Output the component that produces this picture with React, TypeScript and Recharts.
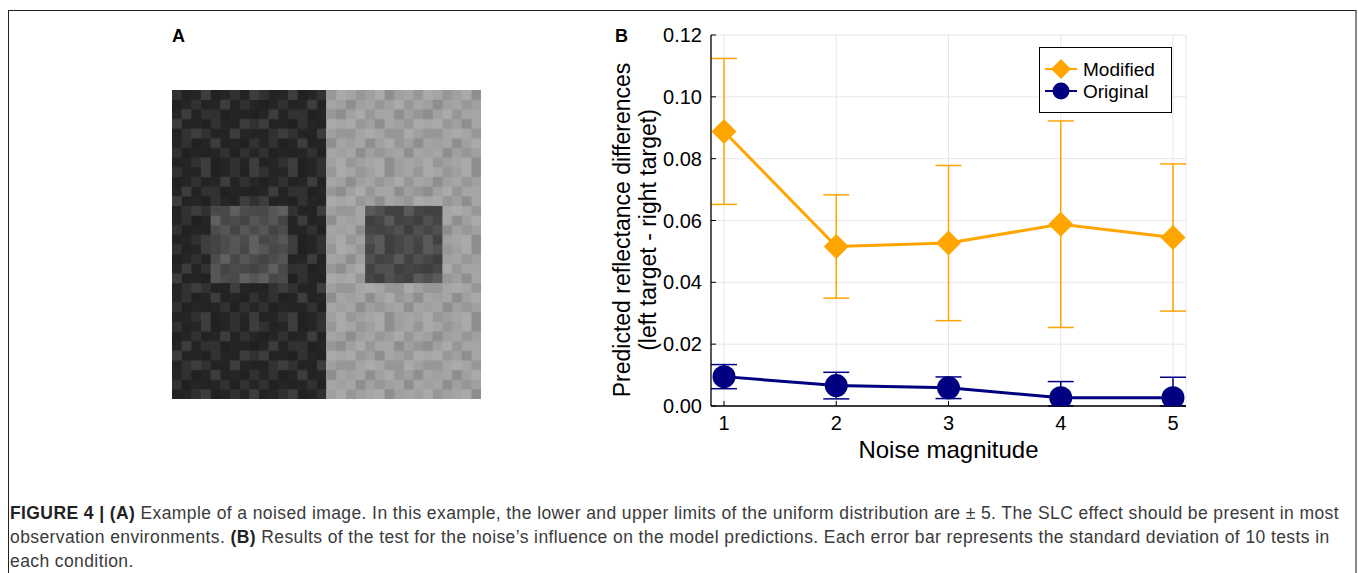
import React from 'react';
import { LineChart, Line, XAxis, YAxis, CartesianGrid, ErrorBar, Legend } from 'recharts';

// Panel B values
const noiseLevels = [1, 2, 3, 4, 5];
const modifiedMean = [0.0888, 0.0516, 0.0527, 0.0588, 0.0545];
const modifiedStd = [0.0236, 0.0167, 0.0251, 0.0334, 0.0238];
const originalMean = [0.0095, 0.0066, 0.0059, 0.0027, 0.0027];
// lower / upper extent of the original error bars (lower ones stop at the axis)
const originalErrLow = [0.0039, 0.0043, 0.0035, 0.0027, 0.0027];
const originalErrHigh = [0.0039, 0.0043, 0.0035, 0.0052, 0.0066];
const yTicks = [0, 0.02, 0.04, 0.06, 0.08, 0.1, 0.12];

const seriesNames = ['Modified', 'Original'];
const ORANGE = '#FFA500';
const NAVY = '#000080';
const FONT = '"Liberation Sans", Arial, Helvetica, sans-serif';

// hand-picked shade offsets for the noise texture of panel A
const tileShade = [
  [1, -1, 0, 2, -2, 0, 1, -1, 2],
  [-2, 0, 1, -1, 0, 2, -1, 1, 0],
  [0, 2, -1, 1, 1, -2, 0, -1, -2],
  [2, -1, 0, -2, 1, 0, -1, 2, 1],
  [-1, 1, 2, 1, -1, -1, 2, 0, -1],
  [0, 1, -2, 0, 2, -1, 0, -2, 1],
  [1, -2, 0, -1, 0, 1, -2, 1, 0],
  [-1, 0, 1, 2, -2, 0, 1, 0, 2],
];

const data = noiseLevels.map((x, i) => ({
  x,
  modified: modifiedMean[i],
  modifiedErr: modifiedStd[i],
  original: originalMean[i],
  originalErr: [originalErrLow[i], originalErrHigh[i]],
}));

const Diamond = (props: any) => {
  const { cx, cy } = props;
  if (cx == null || cy == null) return <g />;
  const h = 12.5;
  return <path d={`M${cx},${cy - h}L${cx + h},${cy}L${cx},${cy + h}L${cx - h},${cy}Z`} fill={ORANGE} />;
};

const Disc = (props: any) => {
  const { cx, cy, index } = props;
  if (cx == null || cy == null) return <g />;
  const id = `disc-clip-${index}`;
  return (
    <g>
      <clipPath id={id}>
        <rect x={0} y={0} width={1358} height={406} />
      </clipPath>
      <circle cx={cx} cy={cy} r={11.5} fill={NAVY} clipPath={`url(#${id})`} />
    </g>
  );
};

const LegendBox = () => (
  <svg width={133} height={66} style={{ display: 'block' }}>
    <rect x={0.5} y={0.5} width={132} height={65} fill="#fff" stroke="#000" strokeWidth={1} />
    <line x1={6} x2={38} y1={22} y2={22} stroke={ORANGE} strokeWidth={2} />
    <path d="M22,12L32,22L22,32L12,22Z" fill={ORANGE} />
    <text x={44} y={29} fontSize={19} fontFamily={FONT} fill="#000">{seriesNames[0]}</text>
    <line x1={6} x2={38} y1={44} y2={44} stroke={NAVY} strokeWidth={2} />
    <circle cx={22} cy={44} r={8.5} fill={NAVY} />
    <text x={44} y={51} fontSize={19} fontFamily={FONT} fill="#000">{seriesNames[1]}</text>
  </svg>
);

const YLabel = () => (
  <g transform="translate(622,230) rotate(-90)">
    <text x={0} y={0} textAnchor="middle" dominantBaseline="central" fontSize={23} fontFamily={FONT} fill="#000">
      Predicted reflectance differences
    </text>
    <text x={0} y={26} textAnchor="middle" dominantBaseline="central" fontSize={23} fontFamily={FONT} fill="#000">
      (left target - right target)
    </text>
  </g>
);

const NoiseImage = () => {
  const size = 309;
  const cell = size / 32;
  const tw = tileShade[0].length;
  const th = tileShade.length;
  return (
    <svg width={size} height={size} style={{ position: 'absolute', left: 172, top: 90 }}>
      <defs>
        <pattern id="noise" patternUnits="userSpaceOnUse" width={tw * cell} height={th * cell}>
          {tileShade.map((row, r) =>
            row.map((v, c) =>
              v === 0 ? null : (
                <rect
                  key={`${r}-${c}`}
                  x={c * cell}
                  y={r * cell}
                  width={cell + 0.2}
                  height={cell + 0.2}
                  fill={v > 0 ? '#fff' : '#000'}
                  fillOpacity={0.055 * Math.abs(v)}
                />
              )
            )
          )}
        </pattern>
      </defs>
      <rect x={0} y={0} width={size / 2} height={size} fill="#252525" />
      <rect x={size / 2} y={0} width={size / 2} height={size} fill="#a0a0a0" />
      <rect x={4 * cell} y={12 * cell} width={8 * cell} height={8 * cell} fill="#4c4c4c" />
      <rect x={20 * cell} y={12 * cell} width={8 * cell} height={8 * cell} fill="#464646" />
      <rect x={0} y={0} width={size} height={size} fill="url(#noise)" />
    </svg>
  );
};

const captionLines = [
  [
    'FIGURE 4 | (A)',
    ' Example of a noised image. In this example, the lower and upper limits of the uniform distribution are \u00b1 5. The SLC effect should be present in most',
  ],
  [
    'observation environments. ',
    '(B)',
    ' Results of the test for the noise\u2019s influence on the model predictions. Each error bar represents the standard deviation of 10 tests in',
  ],
  ['each condition.'],
];

export default function App() {
  return (
    <div style={{ position: 'absolute', left: 0, top: 0, width: 1358, height: 573, background: '#fff', overflow: 'hidden' }}>
      <LineChart
        width={1358}
        height={573}
        data={data}
        margin={{ top: 35, right: 172, bottom: 137, left: 651 }}
        style={{ position: 'absolute', left: 0, top: 0 }}
      >
        <CartesianGrid stroke="#e6e6e6" strokeWidth={1} />
        <XAxis
          dataKey="x"
          type="number"
          domain={[0.884, 5.116]}
          ticks={noiseLevels}
          allowDataOverflow
          height={30}
          tickSize={-5}
          tickMargin={15}
          axisLine={{ stroke: '#000', strokeWidth: 1.3 }}
          tickLine={{ stroke: '#000' }}
          tick={{ fill: '#000', fontSize: 20, fontFamily: FONT }}
        />
        <YAxis
          type="number"
          domain={[0, 0.12]}
          ticks={yTicks}
          allowDataOverflow
          width={60}
          tickSize={-5}
          tickMargin={14}
          tickFormatter={(v: number) => v.toFixed(2)}
          axisLine={{ stroke: '#000', strokeWidth: 1.3 }}
          tickLine={{ stroke: '#000' }}
          tick={{ fill: '#000', fontSize: 20, fontFamily: FONT }}
          label={{ content: () => <YLabel /> }}
        />
        <Legend
          layout="vertical"
          align="center"
          verticalAlign="middle"
          content={() => <LegendBox />}
          wrapperStyle={{ left: 1039, top: 47, width: 133, height: 66 }}
        />
        <Line
          dataKey="modified"
          name={seriesNames[0]}
          stroke={ORANGE}
          strokeWidth={3}
          dot={(p: any) => <Diamond key={`m${p.index}`} {...p} />}
          activeDot={false}
          isAnimationActive={false}
        >
          <ErrorBar dataKey="modifiedErr" direction="y" width={13} stroke={ORANGE} strokeWidth={1.5} />
        </Line>
        <Line
          dataKey="original"
          name={seriesNames[1]}
          stroke={NAVY}
          strokeWidth={3}
          dot={(p: any) => <Disc key={`o${p.index}`} {...p} />}
          activeDot={false}
          isAnimationActive={false}
        >
          <ErrorBar dataKey="originalErr" direction="y" width={13} stroke={NAVY} strokeWidth={1.5} />
        </Line>
      </LineChart>

      <div style={{ position: 'absolute', left: 8, top: 10, width: 1346, height: 620, borderTop: '1.5px solid #222', borderLeft: '1.5px solid #222', borderRight: '2px solid #888' }} />

      <div style={{ position: 'absolute', left: 172, top: 26, fontFamily: FONT, fontWeight: 700, fontSize: 18 }}>A</div>
      <div style={{ position: 'absolute', left: 615, top: 26, fontFamily: FONT, fontWeight: 700, fontSize: 18 }}>B</div>

      <div style={{ position: 'absolute', left: 711, width: 475, top: 436, textAlign: 'center', fontFamily: FONT, fontSize: 24, color: '#000' }}>
        Noise magnitude
      </div>

      <NoiseImage />

      <div style={{ position: 'absolute', left: 10, top: 501, width: 1345, fontFamily: FONT, fontSize: 17.5, letterSpacing: 0.4, lineHeight: '24px', color: '#3a3a3a', whiteSpace: 'nowrap' }}>
        {captionLines.map((parts, i) => (
          <div key={i}>
            {parts.map((t, j) =>
              t.startsWith('FIGURE') || t === '(B)' ? (
                <b key={j} style={{ color: '#222' }}>{t}</b>
              ) : (
                <span key={j}>{t}</span>
              )
            )}
          </div>
        ))}
      </div>
    </div>
  );
}
